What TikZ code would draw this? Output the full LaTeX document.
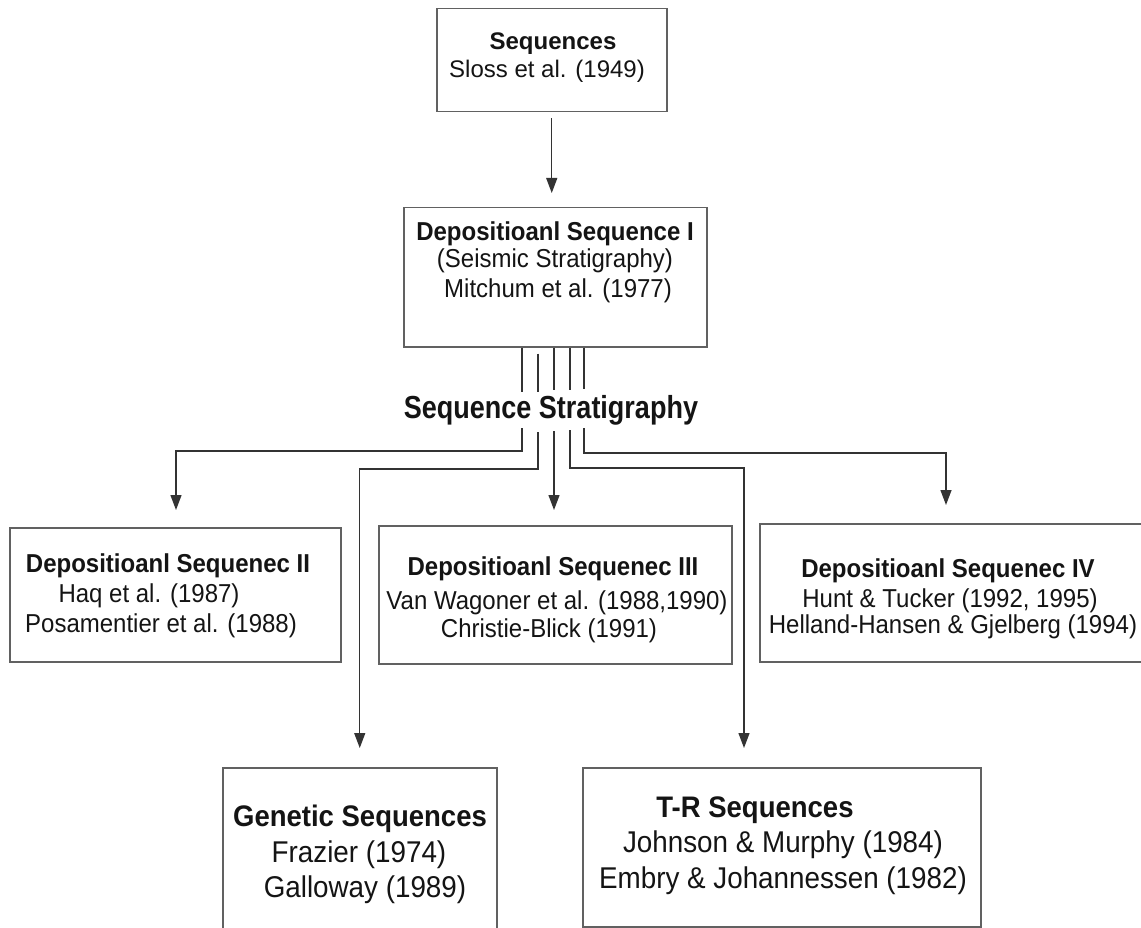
\documentclass[tikz,border=0pt]{standalone}
\usepackage{fontspec}
\usepackage{graphicx}
\setmainfont{Liberation Sans}
\usetikzlibrary{arrows.meta}
\newcommand{\vs}[1]{\scalebox{1}[1.08]{#1}}
\begin{document}
\begin{tikzpicture}[x=1pt,y=-1pt,
  boxst/.style={draw=black!62, line width=1.5pt, inner sep=0pt, anchor=north west},
  conn/.style={draw=black!80, line width=1.3pt},
  arr/.style={conn, -{Triangle[width=11pt,length=15pt]}},
  txt/.style={anchor=base, inner sep=0pt, text=black!92, font=\fontsize{24}{24}\selectfont},
  btxt/.style={txt, font=\fontsize{24}{24}\selectfont\bfseries},
  ltxt/.style={txt, font=\fontsize{27.8}{28}\selectfont},
  lbtxt/.style={txt, font=\fontsize{27.5}{28}\selectfont\bfseries}]

\fill[white] (0,0) rectangle (1141,928);
\useasboundingbox (0,0) rectangle (1141,928);

% boxes
\node[boxst, minimum width=230, minimum height=103] (b0) at (436,8) {};
\node[boxst, minimum width=303, minimum height=139] (b1) at (403,207) {};
\node[boxst, minimum width=331, minimum height=134] (b2) at (9,527) {};
\node[boxst, minimum width=353, minimum height=138] (b3) at (378,525) {};
\node[boxst, minimum width=400, minimum height=138] (b4) at (759,523) {};
\node[boxst, minimum width=274, minimum height=172] (b5) at (222,767) {};
\node[boxst, minimum width=398, minimum height=159] (b6) at (582,767) {};

% texts
\node[btxt] (t0a) at (553,50) {Sequences};
\node[txt]  (t0b) at (547,78) {Sloss et al. (1949)};

\node[btxt] (t1a) at (555,241) {\vs{Depositioanl Sequence I}};
\node[txt]  (t1b) at (555,268) {\vs{(Seismic Stratigraphy)}};
\node[txt]  (t1c) at (558,298) {\vs{Mitchum et al. (1977)}};

\node[txt, font=\fontsize{27}{27}\selectfont\bfseries] (ss) at (551,418)
  {\scalebox{1}[1.18]{Sequence Stratigraphy}};

\node[btxt] (t2a) at (168,572) {\vs{Depositioanl Sequenec II}};
\node[txt]  (t2b) at (149,602) {\vs{Haq et al. (1987)}};
\node[txt]  (t2c) at (161,632) {\vs{Posamentier et al. (1988)}};

\node[btxt] (t3a) at (553,575) {\vs{Depositioanl Sequenec III}};
\node[txt]  (t3b) at (557,609) {\vs{Van Wagoner et al. (1988,1990)}};
\node[txt]  (t3c) at (549,637) {\vs{Christie-Blick (1991)}};

\node[btxt] (t4a) at (948,577) {\vs{Depositioanl Sequenec IV}};
\node[txt]  (t4b) at (950,607) {\vs{Hunt \& Tucker (1992, 1995)}};
\node[txt]  (t4c) at (953,633) {\vs{Helland-Hansen \& Gjelberg (1994)}};

\node[lbtxt] (t5a) at (360,826) {\vs{Genetic Sequences}};
\node[ltxt]  (t5b) at (359,862) {\vs{Frazier (1974)}};
\node[ltxt]  (t5c) at (365,897) {\vs{Galloway (1989)}};

\node[lbtxt] (t6a) at (755,817) {\vs{T-R Sequences}};
\node[ltxt]  (t6b) at (783,852) {\vs{Johnson \& Murphy (1984)}};
\node[ltxt]  (t6c) at (783,888) {\vs{Embry \& Johannessen (1982)}};

% top arrow
\draw[arr, shorten <=6pt, shorten >=14pt] (b0.south) -- (b0.south |- b1.north);

% stems above the title
\draw[conn] ([xshift=119pt]b1.south west) -- ++(0,44);
\draw[conn] ([xshift=135pt,yshift=-6pt]b1.south west) -- ++(0,38);
\draw[conn] ([xshift=151pt]b1.south west) -- ++(0,42);
\draw[conn] ([xshift=167pt]b1.south west) -- ++(0,42);
\draw[conn] ([xshift=181pt]b1.south west) -- ++(0,41);

% branches below the title
\coordinate (k1) at (522,428);
\coordinate (k2) at (538,432);
\coordinate (k3) at (554,431);
\coordinate (k4) at (570,430);
\coordinate (k5) at (584,428);

\draw[arr, shorten >=17pt] (k1) -- ++(0,23) -| ([xshift=167pt]b2.north west);
\draw[arr, shorten >=19pt] (k2) -- ++(0,37) -| (b5.north);
\draw[arr, shorten >=15pt] (k3) -- (k3 |- b3.north);
\draw[arr, shorten >=19pt] (k4) -- ++(0,38) -| ([xshift=162pt]b6.north west);
\draw[arr, shorten >=18pt] (k5) -- ++(0,25) -| ([xshift=187pt]b4.north west);
\end{tikzpicture}
\end{document}
